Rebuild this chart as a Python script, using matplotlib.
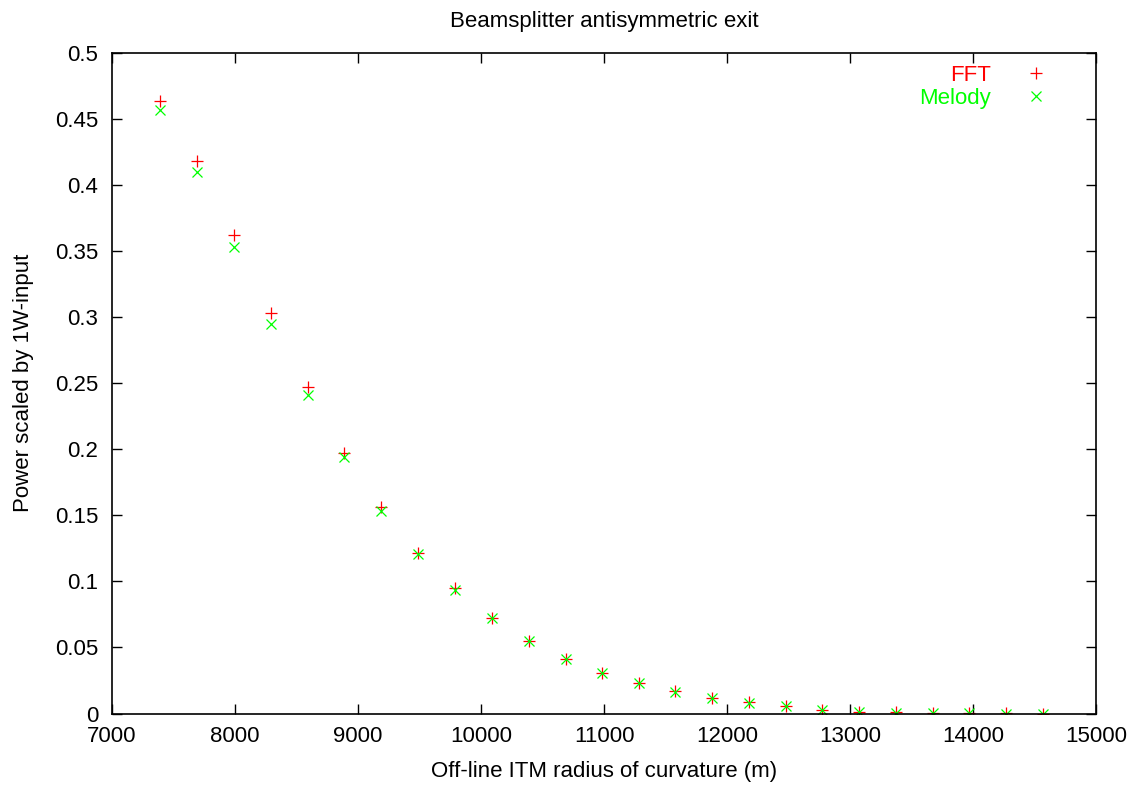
import matplotlib
matplotlib.use("Agg")
import matplotlib.pyplot as plt
from matplotlib.ticker import MultipleLocator

plt.rcParams['font.family'] = ['Liberation Sans', 'DejaVu Sans']

radius = [7390, 7690, 7990, 8290, 8590, 8890, 9190, 9490, 9790, 10090, 10390, 10690,
          10985, 11285, 11580, 11880, 12180, 12480, 12775, 13075, 13375, 13675, 13970,
          14270, 14570]
fft = [0.464, 0.418, 0.362, 0.303, 0.247, 0.197, 0.156, 0.1215, 0.095, 0.072, 0.055, 0.0415,
       0.031, 0.023, 0.0167, 0.0121, 0.0084, 0.0057, 0.003, 0.0015, 0.0008, 0.0003, 0.0001,
       0.00005, 0.0]
melody = [0.457, 0.410, 0.353, 0.295, 0.241, 0.194, 0.153, 0.121, 0.0935, 0.072, 0.055, 0.0413,
          0.0309, 0.0229, 0.0165, 0.012, 0.0082, 0.0055, 0.0029, 0.0014, 0.0007, 0.0002, 0.0001,
          0.0, 0.0]

fig = plt.figure(figsize=(11.32, 7.85), dpi=100)
ax = fig.add_axes([112 / 1132, (785 - 713.5) / 785, 984 / 1132, 660.5 / 785])

ax.plot(radius, fft, linestyle='none', marker='+', color='#ff0000', markersize=8, mew=0.9, label='FFT')
ax.plot(radius, melody, linestyle='none', marker='x', color='#00ff00', markersize=7.5, mew=0.9, label='Melody')

ax.set_xlim(7000, 15000)
ax.set_ylim(0, 0.5)
ax.xaxis.set_major_locator(MultipleLocator(1000))
ax.set_yticks([i * 0.05 for i in range(11)])
ax.set_yticklabels([f"{i * 0.05:g}" for i in range(11)])
ax.tick_params(direction='in', top=True, right=True, length=7.5, width=1.0, labelsize=16)
ax.tick_params(axis='y', pad=10)
ax.tick_params(axis='x', pad=9)
for s in ax.spines.values():
    s.set_linewidth(1.2)

ax.set_title('Beamsplitter antisymmetric exit', fontsize=16, pad=19)
ax.set_xlabel('Off-line ITM radius of curvature (m)', fontsize=16, labelpad=10)
ax.set_ylabel('Power scaled by 1W-input', fontsize=16, labelpad=15)

leg = ax.legend(loc='upper right', bbox_to_anchor=(0.956, 0.982), frameon=False,
                markerfirst=False, fontsize=16, labelcolor='linecolor',
                handlelength=1.5, handletextpad=1.27, borderpad=0, borderaxespad=0,
                labelspacing=0.08, alignment='right')
for t in leg.get_texts():
    t.set_ha('right')

fig.savefig('out.png', dpi=100)
